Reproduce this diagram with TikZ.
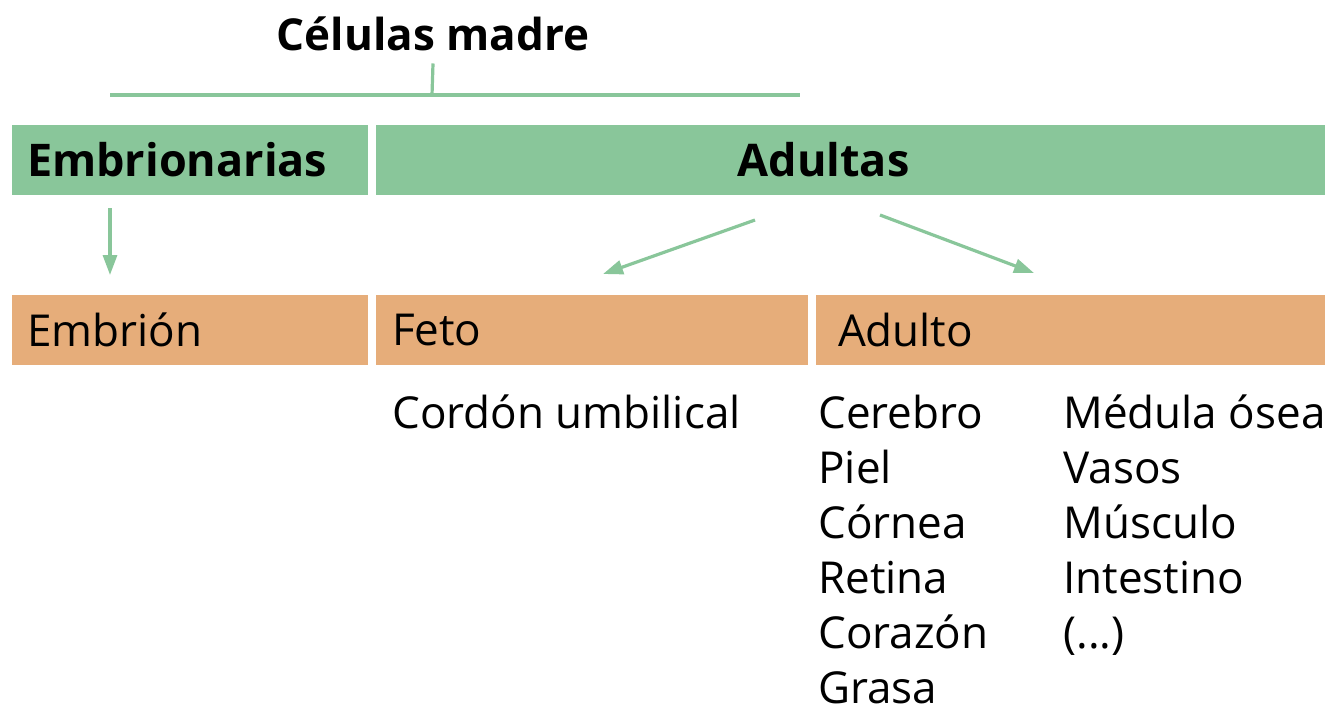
\documentclass[tikz,border=0pt]{standalone}
\usepackage{fontspec}
\setmainfont{Open Sans}
\usetikzlibrary{positioning,arrows.meta}
\definecolor{verde}{RGB}{137,198,154}
\definecolor{naranja}{RGB}{230,173,122}

\begin{document}
\begin{tikzpicture}[x=0.5pt,y=-0.5pt,font=\fontsize{22}{27.5}\selectfont,
  bar/.style={minimum height=35pt,inner xsep=7.5pt,inner ysep=0pt,outer sep=0pt,align=left},
  verdebar/.style={bar,fill=verde,font=\fontsize{22.5}{28}\selectfont\bfseries},
  naranjabar/.style={bar,fill=naranja},
  lista/.style={anchor=base west,align=left,inner sep=0pt},
  rama/.style={draw=verde,line width=1.6pt},
  flecha/.style={rama,-{Triangle[length=10pt,width=7pt]}}]
\useasboundingbox (0,0) rectangle (1331,708);

\node[font=\fontsize{22}{28}\selectfont\bfseries,inner sep=0pt] (celulas) at (433,34) {Células madre};
\coordinate (raiz) at (432,95);
\coordinate (ramaizq) at (110,95);
\coordinate (ramader) at (800,95);
\draw[rama] ([yshift=-6pt]celulas.south) -- (raiz);
\draw[rama] (ramaizq) -- (ramader);

\node[verdebar,text width=163pt] (embrionarias) at (190,160) {Embrionarias};
\node[verdebar,minimum width=474.5pt,label={[font=\fontsize{22.5}{28}\selectfont\bfseries,xshift=-13.5pt]center:Adultas}] (adultas) at (850.5,160) {};

\node[naranjabar,text width=163pt] (embrion) at (190,330) {Embrión};
\node[naranjabar,text width=200pt,inner xsep=8pt] (feto) at (592,330) {Feto};
\node[naranjabar,text width=232.5pt,inner xsep=11pt] (adulto) at (1070.5,330) {Adulto};

\draw[flecha,shorten <=6.5pt,shorten >=10pt] ([xshift=-40pt]embrionarias.south) -- ([xshift=-40pt]embrion.north);
\coordinate (salizq) at (755,220);
\coordinate (llegizq) at (603,274);
\coordinate (salder) at (880,215);
\coordinate (llegder) at (1034,273);
\draw[flecha] (salizq) -- (llegizq);
\draw[flecha] (salder) -- (llegder);

% the base anchor of a multi-line node sits on its last line
\node[lista] (cordon) at (392,428) {Cordón umbilical};
\node[lista] (organos1) at (818,703) {Cerebro\\Piel\\Córnea\\Retina\\Corazón\\Grasa};
\node[lista] (organos2) at (1063,648) {Médula ósea\\Vasos\\Músculo\\Intestino\\(...)};
\end{tikzpicture}
\end{document}
